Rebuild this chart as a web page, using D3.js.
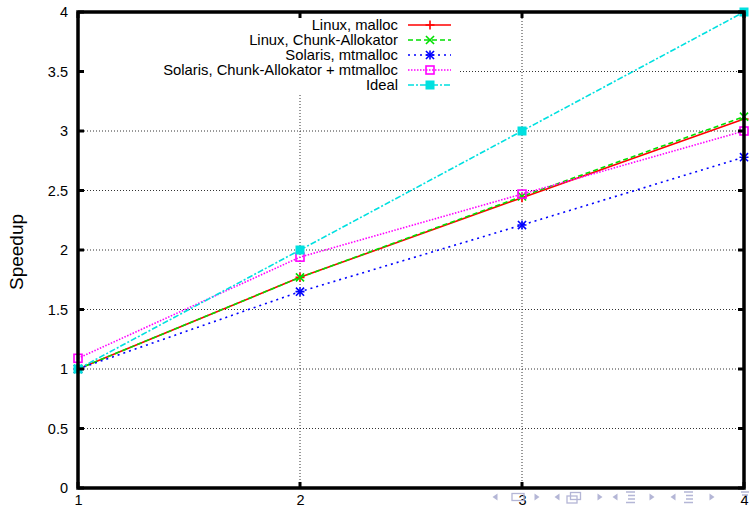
<!DOCTYPE html>
<html>
<head>
<meta charset="utf-8">
<script src="https://cdn.jsdelivr.net/npm/d3@7"></script>
<style>
  html, body { margin: 0; padding: 0; background: #fff; }
  svg { display: block; font-family: "Liberation Sans", Arial, sans-serif; }
</style>
</head>
<body>
<svg id="chart" width="752" height="508"></svg>
<script>
// Threads on the x axis, measured speedup on the y axis
const threads = [1, 2, 3, 4];
const linuxMalloc = [1.0, 1.77, 2.44, 3.10];
const linuxChunk = [1.0, 1.77, 2.45, 3.12];
const solarisMtmalloc = [1.0, 1.65, 2.21, 2.78];
const solarisChunkMtmalloc = [1.09, 1.94, 2.47, 3.0];
const ideal = [1, 2, 3, 4];

const seriesNames = [
  "Linux, malloc",
  "Linux, Chunk-Allokator",
  "Solaris, mtmalloc",
  "Solaris, Chunk-Allokator + mtmalloc",
  "Ideal"
];

const xTicks = [1, 2, 3, 4];
const xTickLabels = ["1", "2", "3", "4"];
const yTicks = [0, 0.5, 1, 1.5, 2, 2.5, 3, 3.5, 4];
const yTickLabels = ["0", "0.5", "1", "1.5", "2", "2.5", "3", "3.5", "4"];
const yTitle = "Speedup";

const series = [
  { name: seriesNames[0], values: linuxMalloc, color: "#ff0000", dash: null, marker: "plus" },
  { name: seriesNames[1], values: linuxChunk, color: "#00e000", dash: "5,3", marker: "cross" },
  { name: seriesNames[2], values: solarisMtmalloc, color: "#0000ff", dash: "2,4", marker: "star" },
  { name: seriesNames[3], values: solarisChunkMtmalloc, color: "#ff00ff", dash: "1.5,1.5", marker: "box" },
  { name: seriesNames[4], values: ideal, color: "#00e0e0", dash: "6,2,2,2", marker: "filledbox" }
];

const svg = d3.select("#chart");
const pLeft = 78, pRight = 744, pTop = 12, pBottom = 488;

const x = d3.scaleLinear().domain([1, 4]).range([pLeft, pRight]);
const y = d3.scaleLinear().domain([0, 4]).range([pBottom, pTop]);

// Legend block geometry (grid is suppressed behind it)
const keyRight = 460, keyBottom = 95;

// Grid lines
const grid = svg.append("g").attr("class", "grid");
yTicks.filter(v => v > 0 && v < 4).forEach(v => {
  const yy = y(v);
  const x0 = yy < keyBottom ? keyRight : pLeft;
  grid.append("line")
    .attr("x1", x0).attr("x2", pRight)
    .attr("y1", yy).attr("y2", yy);
});
xTicks.filter(v => v > 1 && v < 4).forEach(v => {
  const xx = x(v);
  const y0 = xx < keyRight ? keyBottom : pTop;
  grid.append("line")
    .attr("x1", xx).attr("x2", xx)
    .attr("y1", y0).attr("y2", pBottom);
});
grid.selectAll("line")
  .attr("stroke", "#333")
  .attr("stroke-width", 1)
  .attr("stroke-dasharray", "1,2");

// Marker shapes
function drawMarker(g, type, cx, cy, color) {
  const r = 4.5;
  if (type === "plus" || type === "star") {
    g.append("path")
      .attr("d", `M${cx - r},${cy}H${cx + r}M${cx},${cy - r}V${cy + r}`)
      .attr("stroke", color).attr("stroke-width", 1.6).attr("fill", "none");
  }
  if (type === "cross" || type === "star") {
    const q = r * 0.9;
    g.append("path")
      .attr("d", `M${cx - q},${cy - q}L${cx + q},${cy + q}M${cx - q},${cy + q}L${cx + q},${cy - q}`)
      .attr("stroke", color).attr("stroke-width", 1.6).attr("fill", "none");
  }
  if (type === "box") {
    g.append("rect")
      .attr("x", cx - 4).attr("y", cy - 4).attr("width", 8).attr("height", 8)
      .attr("stroke", color).attr("stroke-width", 1.6).attr("fill", "none");
  }
  if (type === "filledbox") {
    g.append("rect")
      .attr("x", cx - 4.5).attr("y", cy - 4.5).attr("width", 9).attr("height", 9)
      .attr("fill", color);
  }
}

// Data lines and points
const line = d3.line().x((d, i) => x(threads[i])).y(d => y(d));
const plot = svg.append("g").attr("class", "series");
series.forEach(s => {
  plot.append("path")
    .datum(s.values)
    .attr("d", line)
    .attr("fill", "none")
    .attr("stroke", s.color)
    .attr("stroke-width", 1.6)
    .attr("stroke-dasharray", s.dash);
  const pts = plot.append("g");
  s.values.forEach((v, i) => drawMarker(pts, s.marker, x(threads[i]), y(v), s.color));
});

// Legend
const key = svg.append("g").attr("class", "legend");
series.forEach((s, i) => {
  const yy = 25 + i * 15;
  key.append("text")
    .attr("x", 398).attr("y", yy).attr("dy", "0.35em")
    .attr("text-anchor", "end")
    .attr("font-size", 14.8)
    .attr("fill", "#000")
    .text(s.name);
  key.append("line")
    .attr("x1", 408).attr("x2", 451)
    .attr("y1", yy).attr("y2", yy)
    .attr("stroke", s.color).attr("stroke-width", 1.6)
    .attr("stroke-dasharray", s.dash);
  drawMarker(key, s.marker, 430, yy, s.color);
});

// Inward tick marks on all four sides
const tickLen = 6;
const ticks = svg.append("g").attr("stroke", "#000").attr("stroke-width", 3);
yTicks.forEach(v => {
  ticks.append("line").attr("x1", pLeft).attr("x2", pLeft + tickLen).attr("y1", y(v)).attr("y2", y(v));
  ticks.append("line").attr("x1", pRight).attr("x2", pRight - tickLen).attr("y1", y(v)).attr("y2", y(v));
});
xTicks.forEach(v => {
  ticks.append("line").attr("x1", x(v)).attr("x2", x(v)).attr("y1", pBottom).attr("y2", pBottom - tickLen);
  ticks.append("line").attr("x1", x(v)).attr("x2", x(v)).attr("y1", pTop).attr("y2", pTop + tickLen);
});

// Frame
svg.append("rect")
  .attr("x", pLeft).attr("y", pTop)
  .attr("width", pRight - pLeft).attr("height", pBottom - pTop)
  .attr("fill", "none").attr("stroke", "#000").attr("stroke-width", 3.5);

// Tick labels via D3 axes
const yAxis = d3.axisLeft(y).tickValues(yTicks)
  .tickFormat((d, i) => yTickLabels[i]).tickSize(0).tickPadding(10);
svg.append("g").attr("transform", `translate(${pLeft},0)`).call(yAxis)
  .call(g => g.select(".domain").remove())
  .call(g => g.selectAll("text").attr("font-size", 14.5).attr("font-family", "Liberation Sans, Arial, sans-serif").attr("fill", "#000"));

const xAxis = d3.axisBottom(x).tickValues(xTicks)
  .tickFormat((d, i) => xTickLabels[i]).tickSize(0).tickPadding(7);
svg.append("g").attr("transform", `translate(0,${pBottom})`).call(xAxis)
  .call(g => g.select(".domain").remove())
  .call(g => g.selectAll("text").attr("font-size", 14.5).attr("font-family", "Liberation Sans, Arial, sans-serif").attr("fill", "#000"));

// Axis title
svg.append("text")
  .attr("transform", "translate(23,252) rotate(-90)")
  .attr("text-anchor", "middle")
  .attr("font-size", 19)
  .attr("fill", "#000")
  .text(yTitle);

// Slide navigation symbols along the lower edge
const navColor = "#b4b6d6";
const nav = svg.append("g").attr("fill", "none").attr("stroke", navColor).attr("stroke-width", 1.3);
function arrowL(cx, cy) { nav.append("path").attr("d", `M${cx + 2.5},${cy - 3.5}L${cx - 2.5},${cy}L${cx + 2.5},${cy + 3.5}Z`).attr("fill", navColor).attr("stroke", "none"); }
function arrowR(cx, cy) { nav.append("path").attr("d", `M${cx - 2.5},${cy - 3.5}L${cx + 2.5},${cy}L${cx - 2.5},${cy + 3.5}Z`).attr("fill", navColor).attr("stroke", "none"); }
const ny = 497;
arrowL(495, ny);
nav.append("rect").attr("x", 512).attr("y", ny - 3.5).attr("width", 12).attr("height", 7);
arrowR(537, ny);
arrowL(557, ny);
nav.append("rect").attr("x", 567).attr("y", ny - 1).attr("width", 10).attr("height", 7);
nav.append("rect").attr("x", 570.5).attr("y", ny - 4.5).attr("width", 10).attr("height", 7);
arrowR(600, ny);
arrowL(615, ny);
nav.append("path").attr("d", `M626,${ny - 5}H635M628,${ny - 1.5}H635M628,${ny + 2}H635M626,${ny + 5.5}H635`);
arrowR(652, ny);
arrowL(673, ny);
nav.append("path").attr("d", `M684,${ny - 5}H693M686,${ny - 1.5}H693M686,${ny + 2}H693M684,${ny + 5.5}H693`);
arrowR(712, ny);
nav.append("path").attr("d", `M741,${ny - 5}H749M742,${ny - 2}H748`);
</script>
</body>
</html>
